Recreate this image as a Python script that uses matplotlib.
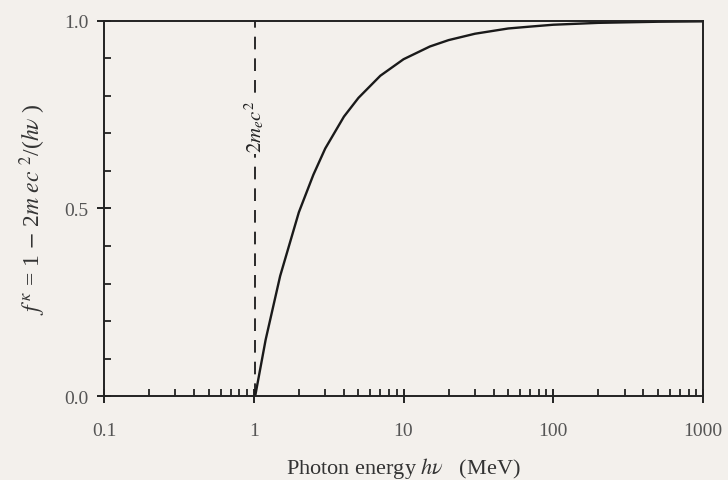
import matplotlib.pyplot as plt
import numpy as np
from matplotlib.ticker import LogLocator, MultipleLocator, FixedFormatter, FixedLocator

# values
photon_energy = [1.022, 1.2, 1.5, 2.0, 2.5, 3.0, 4.0, 5.0, 7.0, 10.0, 15.0, 20.0, 30.0,
                 50.0, 70.0, 100.0, 200.0, 500.0, 1000.0]
f_kappa = [0.0, 0.15, 0.32, 0.49, 0.59, 0.66, 0.745, 0.795, 0.854, 0.898, 0.932, 0.949,
           0.966, 0.980, 0.985, 0.990, 0.995, 0.998, 0.999]
threshold = 1.022
x_ticks = [0.1, 1, 10, 100, 1000]
x_ticklabels = ['0.1', '1', '10', '100', '1000']

plt.rcParams['font.family'] = ['Liberation Serif', 'DejaVu Serif']
plt.rcParams['mathtext.fontset'] = 'stix'

bg = '#f3f0ec'
fig = plt.figure(figsize=(7.28, 4.81), dpi=100, facecolor=bg)
ax = fig.add_axes([0.1429, 0.1746, 0.8228, 0.7797])
ax.set_facecolor(bg)

ax.plot(photon_energy, f_kappa, color='#1a1a1a', lw=1.7)
ax.axvline(threshold, color='#1a1a1a', lw=1.3, ls=(0, (7, 5)))
ax.text(threshold, 0.72, r'$2m_ec^2$', rotation=90, ha='center', va='center',
        fontsize=15, color='#222222',
        bbox=dict(facecolor=bg, edgecolor='none', pad=1))

ax.set_xscale('log')
ax.set_xlim(0.1, 1000)
ax.set_ylim(0, 1)

ax.xaxis.set_major_locator(FixedLocator(x_ticks))
ax.xaxis.set_major_formatter(FixedFormatter(x_ticklabels))
ax.xaxis.set_minor_locator(LogLocator(base=10, subs=np.arange(2, 10), numticks=20))
ax.yaxis.set_major_locator(MultipleLocator(0.5))
ax.yaxis.set_minor_locator(MultipleLocator(0.1))
ax.yaxis.set_major_formatter(plt.FormatStrFormatter('%.1f'))

ax.tick_params(which='major', direction='inout', length=10, width=1.4, color='#222222',
               labelsize=14, labelcolor='#555555', top=False, right=False)
ax.tick_params(which='minor', direction='in', length=5, width=1.3, color='#222222',
               top=False, right=False)
ax.tick_params(axis='x', which='major', pad=14)
ax.tick_params(axis='y', which='major', pad=6)

for spine in ax.spines.values():
    spine.set_color('#222222')
    spine.set_linewidth(1.4)

ax.set_xlabel(r'Photon energy $h\nu$   (MeV)', fontsize=16, color='#333333', labelpad=11)
ax.set_ylabel(r'$f^{\,\kappa}$ = 1 $-$ 2$m$ $ec$ $^2$/($h\nu$ )', fontsize=17,
              color='#333333', labelpad=12)

fig.savefig('out.png', dpi=100, facecolor=bg)
